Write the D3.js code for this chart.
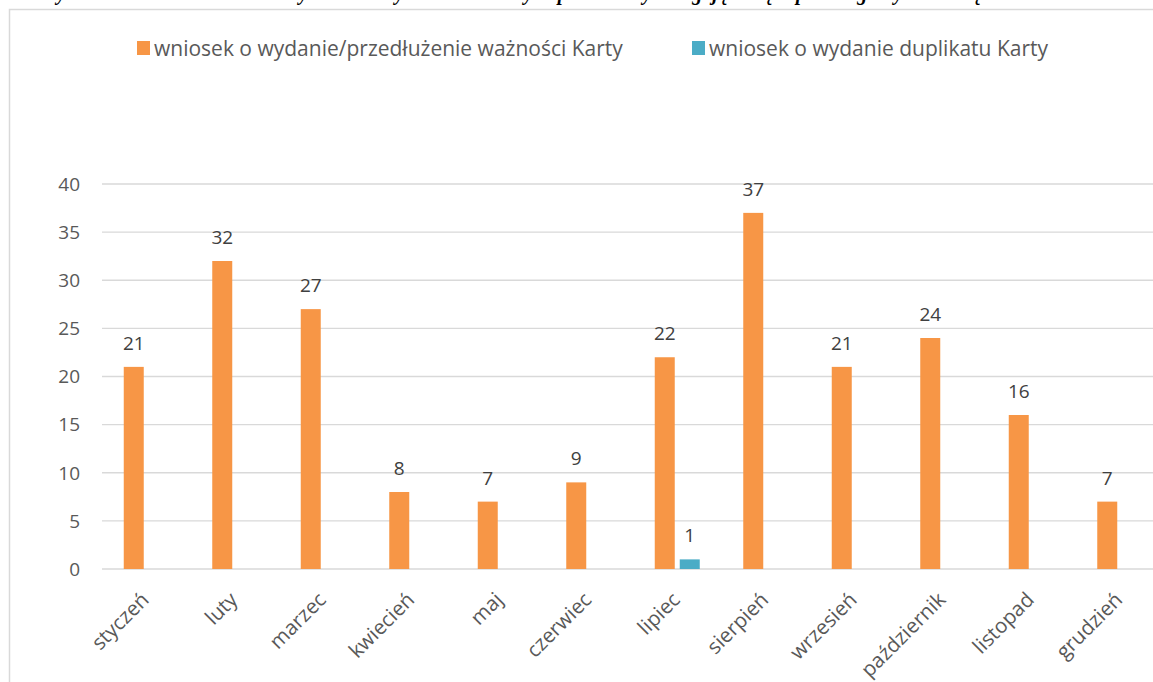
<!DOCTYPE html>
<html>
<head>
<meta charset="utf-8">
<script src="https://cdnjs.cloudflare.com/ajax/libs/d3/7.8.5/d3.min.js"></script>
<style>
  body { margin: 0; background: #fff; }
  svg { display: block; font-family: "Open Sans", sans-serif; }
</style>
</head>
<body>
<div id="chart"></div>
<script>
// data
const months = ["styczeń", "luty", "marzec", "kwiecień", "maj", "czerwiec",
    "lipiec", "sierpień", "wrzesień", "październik", "listopad", "grudzień"];
const seriesNames = ["wniosek o wydanie/przedłużenie ważności Karty", "wniosek o wydanie duplikatu Karty"];
const wydanie = [21, 32, 27, 8, 7, 9, 22, 37, 21, 24, 16, 7];
const duplikat = [null, null, null, null, null, null, 1, null, null, null, null, null];
const yTicks = [0, 5, 10, 15, 20, 25, 30, 35, 40];
const colors = ["#F79646", "#4BACC6"];
const caption = "Wykres 3. Liczba wniosków o wydanie Karty Polaka złożonych przez osoby ubiegające się w poszczególnych miesiącach";

const width = 1153, height = 682;

const svg = d3.select("#chart").append("svg")
    .attr("width", width)
    .attr("height", height);

// caption, cut off at the top of the page (only descenders show)
svg.append("text")
    .attr("x", 40)
    .attr("y", 0)
    .style("font-family", "'Liberation Serif', 'Times New Roman', serif")
    .style("font-style", "italic")
    .style("font-weight", "bold")
    .style("font-size", "20px")
    .attr("fill", "#000")
    .text(caption);

// chart frame
svg.append("rect")
    .attr("x", 9.5)
    .attr("y", 9.5)
    .attr("width", 1200)
    .attr("height", 700)
    .attr("fill", "none")
    .attr("stroke", "#d9d9d9")
    .attr("stroke-width", 1.5);

// scales
const x0 = d3.scaleBand()
    .domain(months)
    .range([102, 1164]);

const groupW = 45;
const x1 = d3.scaleBand()
    .domain(seriesNames)
    .range([0, groupW])
    .paddingInner(0.2);

const y = d3.scaleLinear()
    .domain([0, 40])
    .range([569, 184]);

// gridlines
svg.append("g")
    .selectAll("line")
    .data(yTicks)
    .enter()
    .append("line")
    .attr("x1", 102)
    .attr("x2", width)
    .attr("y1", d => y(d))
    .attr("y2", d => y(d))
    .attr("stroke", "#d9d9d9")
    .attr("stroke-width", 1.3);

// y axis labels
svg.append("g")
    .selectAll("text")
    .data(yTicks)
    .enter()
    .append("text")
    .attr("x", 80)
    .attr("y", d => y(d))
    .attr("dy", "0.36em")
    .attr("text-anchor", "end")
    .attr("fill", "#595959")
    .style("font-size", "19px")
    .text(d => d);

// bars
const rows = months.map((m, i) => ({month: m, values: [wydanie[i], duplikat[i]]}));

const groups = svg.append("g")
    .selectAll("g")
    .data(rows)
    .enter()
    .append("g")
    .attr("transform", d => "translate(" + (x0(d.month) + (x0.bandwidth() - groupW) / 2) + ",0)");

const cells = groups.selectAll("g")
    .data(d => d.values.map((v, k) => ({name: seriesNames[k], value: v, k: k})).filter(c => c.value !== null))
    .enter()
    .append("g");

cells.append("rect")
    .attr("x", d => x1(d.name))
    .attr("width", x1.bandwidth())
    .attr("y", d => y(d.value))
    .attr("height", d => y(0) - y(d.value))
    .attr("fill", d => colors[d.k]);

cells.append("text")
    .attr("x", d => x1(d.name) + x1.bandwidth() / 2)
    .attr("y", d => y(d.value) - 17)
    .attr("text-anchor", "middle")
    .attr("fill", "#404040")
    .style("font-size", "19px")
    .text(d => d.value);

// x axis labels, rotated
svg.append("g")
    .selectAll("text")
    .data(months)
    .enter()
    .append("text")
    .attr("transform", d => "translate(" + (x0(d) + x0.bandwidth() / 2 + 4) + ",601) rotate(-45)")
    .attr("text-anchor", "end")
    .attr("fill", "#595959")
    .style("font-size", "20.5px")
    .text(d => d);

// legend
const legendX = [137, 692];
const legend = svg.append("g")
    .selectAll("g")
    .data(seriesNames)
    .enter()
    .append("g")
    .attr("transform", (d, i) => "translate(" + legendX[i] + ",41)");

legend.append("rect")
    .attr("width", 13)
    .attr("height", 14)
    .attr("fill", (d, i) => colors[i]);

legend.append("text")
    .attr("x", 17)
    .attr("y", 7)
    .attr("dy", "0.36em")
    .attr("fill", "#595959")
    .style("font-size", "21px")
    .text(d => d);
</script>
</body>
</html>
